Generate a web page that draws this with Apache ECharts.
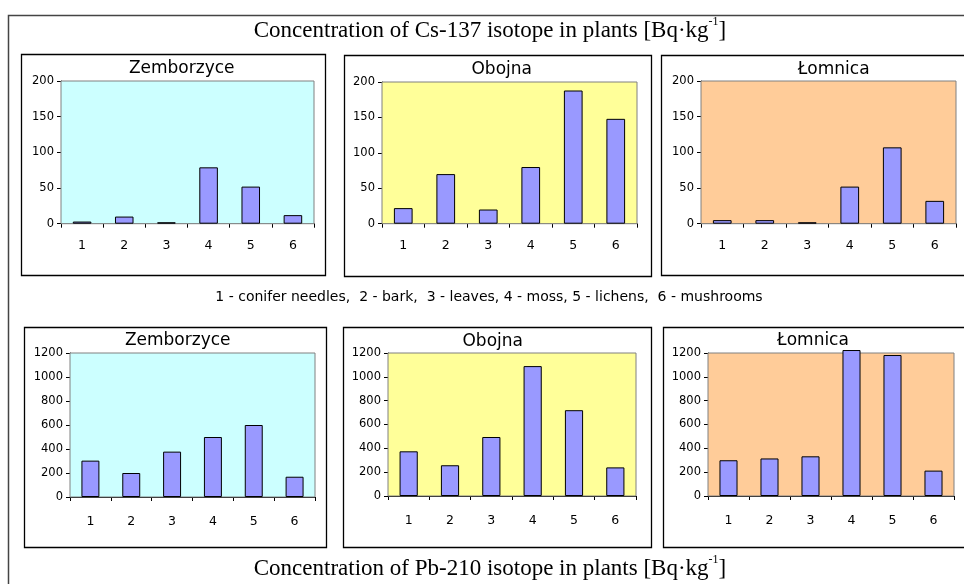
<!DOCTYPE html>
<html>
<head>
<meta charset="utf-8">
<script src="https://cdn.jsdelivr.net/npm/echarts@6/dist/echarts.min.js"></script>
<style>
  html, body { margin: 0; padding: 0; background: #fff; }
  #chart { width: 964px; height: 584px; }
</style>
</head>
<body>
<div id="chart"></div>
<script>
// Plant sample types (1..6) and the three sampling sites
const categories = ['1', '2', '3', '4', '5', '6'];
const sites = ['Zemborzyce', 'Obojna', 'Łomnica'];

// Cs-137 concentration [Bq/kg]
const cs137Zemborzyce = [3, 10, 2, 79, 52, 12];
const cs137Obojna = [22, 70, 20, 80, 188, 148];
const cs137Lomnica = [5, 5, 2, 52, 107, 32];

// Pb-210 concentration [Bq/kg]
const pb210Zemborzyce = [303, 200, 378, 500, 600, 169];
const pb210Obojna = [375, 258, 495, 1090, 720, 240];
const pb210Lomnica = [300, 315, 333, 1225, 1183, 213];

const legendText = '1 - conifer needles,  2 - bark,  3 - leaves, 4 - moss, 5 - lichens,  6 - mushrooms';

const siteColors = ['#CCFFFF', '#FFFF99', '#FFCC99'];
const SANS = 'DejaVu Sans';
const SERIF = 'Liberation Serif';

// panel frames, plot areas and panel-title anchors
const panels = [
  { frame: [21, 54, 304, 221], grid: [61, 81, 253, 142.7], title: [181.7, 69], max: 200, step: 50, lblMargin: 16, data: cs137Zemborzyce },
  { frame: [344, 55, 307, 221], grid: [382, 82, 255, 141.7], title: [501.7, 70], max: 200, step: 50, lblMargin: 16, data: cs137Obojna },
  { frame: [661, 55, 400, 220], grid: [701, 81, 255, 142.7], title: [833.7, 70], max: 200, step: 50, lblMargin: 16, data: cs137Lomnica },
  { frame: [24, 327, 302, 220], grid: [70, 353, 245, 144], title: [177.7, 341], max: 1200, step: 200, lblMargin: 18, data: pb210Zemborzyce },
  { frame: [343, 327, 308, 220], grid: [388, 353, 248, 143], title: [492.7, 341.5], max: 1200, step: 200, lblMargin: 18, data: pb210Obojna },
  { frame: [663, 327, 400, 220], grid: [708, 353, 246, 143], title: [813, 341], max: 1200, step: 200, lblMargin: 18, data: pb210Lomnica }
];

const grids = [], xAxes = [], yAxes = [], series = [], graphics = [];

// outer frame
graphics.push({
  type: 'rect', silent: true, z: 0,
  shape: { x: 8.5, y: 15.5, width: 1000, height: 1000 },
  style: { fill: 'none', stroke: '#444', lineWidth: 1.5 }
});

panels.forEach((p, i) => {
  const site = i % 3;
  graphics.push({
    type: 'rect', silent: true, z: 0,
    shape: { x: p.frame[0] + 0.5, y: p.frame[1] + 0.5, width: p.frame[2], height: p.frame[3] },
    style: { fill: '#fff', stroke: '#000', lineWidth: 1.3 }
  });
  graphics.push({
    type: 'text', silent: true, z: 10,
    style: {
      text: sites[site], x: p.title[0], y: p.title[1],
      textAlign: 'center', textVerticalAlign: 'middle',
      font: '17px "' + SANS + '"', fill: '#000'
    }
  });
  grids.push({
    left: p.grid[0], top: p.grid[1], width: p.grid[2], height: p.grid[3],
    show: true, backgroundColor: siteColors[site],
    borderColor: '#808080', borderWidth: 1, z: 1
  });
  xAxes.push({
    type: 'category', gridIndex: i, data: categories,
    boundaryGap: true,
    axisLine: { show: true, lineStyle: { color: '#000', width: 1 } },
    axisTick: { show: true, length: 4, lineStyle: { color: '#000' } },
    axisLabel: { color: '#000', fontFamily: SANS, fontSize: 12.5, margin: p.lblMargin },
    splitLine: { show: false }
  });
  const nLines = p.max / p.step + 1;
  const lineColors = Array.from({ length: nLines }, (_, k) => k === nLines - 1 ? '#808080' : '#000');
  yAxes.push({
    type: 'value', gridIndex: i, min: 0, max: p.max, interval: p.step,
    axisLine: { show: true, lineStyle: { color: '#000', width: 1 } },
    axisTick: { show: true, length: 4, lineStyle: { color: '#000' } },
    axisLabel: { color: '#000', fontFamily: SANS, fontSize: 11.5, margin: 7, formatter: v => String(v) },
    splitLine: { show: true, lineStyle: { color: lineColors, width: 1 } }
  });
  series.push({
    type: 'bar', xAxisIndex: i, yAxisIndex: i, data: p.data,
    barWidth: '44%', clip: false,
    itemStyle: { color: '#9999FF', borderColor: '#000', borderWidth: 1 },
    emphasis: { disabled: true }
  });
});

// headings with superscript unit exponent
function heading(text, y) {
  return {
    type: 'text', silent: true, z: 10,
    style: {
      text: '{m|' + text + ' [Bq·kg}{s|-1}{m|]}',
      x: 490, y: y, textAlign: 'center', textVerticalAlign: 'middle',
      rich: {
        m: { fontFamily: SERIF, fontSize: 23, fill: '#000', lineHeight: 26, verticalAlign: 'bottom' },
        s: { fontFamily: SERIF, fontSize: 12, fill: '#000', lineHeight: 26, verticalAlign: 'top' }
      }
    }
  };
}
graphics.push(heading('Concentration of Cs-137 isotope in plants', 29));
graphics.push(heading('Concentration of Pb-210 isotope in plants', 567));
graphics.push({
  type: 'text', silent: true, z: 10,
  style: {
    text: legendText, x: 489, y: 297, textAlign: 'center', textVerticalAlign: 'middle',
    font: '14px "' + SANS + '"', fill: '#000'
  }
});

const chart = echarts.init(document.getElementById('chart'), null, { renderer: 'canvas' });
chart.setOption({
  animation: false,
  backgroundColor: '#fff',
  grid: grids,
  xAxis: xAxes,
  yAxis: yAxes,
  series: series,
  graphic: { elements: graphics }
});
</script>
</body>
</html>
